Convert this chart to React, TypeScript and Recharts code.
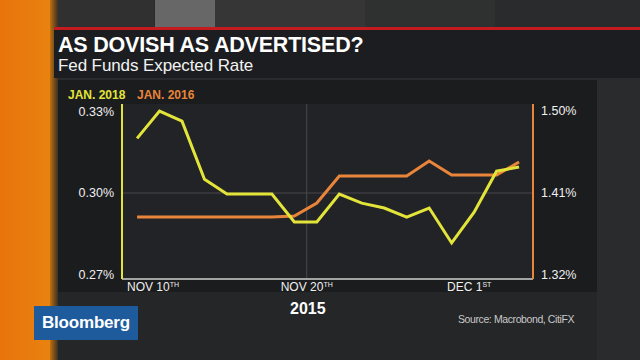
import React from 'react'
import { LineChart, Line, XAxis, YAxis, CartesianGrid, ReferenceLine } from 'recharts'

// business days, Nov 9 - Dec 2 2015
const days = [
  'Nov 9', 'Nov 10', 'Nov 11', 'Nov 12', 'Nov 13', 'Nov 16', 'Nov 17', 'Nov 18', 'Nov 19',
  'Nov 20', 'Nov 23', 'Nov 24', 'Nov 25', 'Nov 26', 'Nov 27', 'Nov 30', 'Dec 1', 'Dec 2',
]
const jan2018 = [
  0.320, 0.330, 0.3263, 0.305, 0.2996, 0.2996, 0.2996, 0.2894, 0.2894,
  0.2996, 0.2963, 0.2945, 0.2912, 0.2945, 0.2817, 0.293, 0.308, 0.3095,
]
const jan2016 = [
  1.3837, 1.3837, 1.3837, 1.3837, 1.3837, 1.3837, 1.3837, 1.3848, 1.399,
  1.4287, 1.4287, 1.4287, 1.4287, 1.4451, 1.4298, 1.4298, 1.4298, 1.444,
]
const leftTicks = [0.27, 0.3, 0.33]
const rightTicks = [1.32, 1.41, 1.5]
const xTickAt = [0.71, 7.55, 14.78]
const xTickMain = ['NOV 10', 'NOV 20', 'DEC 1']
const xTickSup = ['TH', 'TH', 'ST']

const data = days.map((d, i) => ({ i, day: d, jan18: jan2018[i], jan16: jan2016[i] }))

const YELLOW = '#e3e43a'
const ORANGE = '#e8853a'
const FONT = '"Liberation Sans", Arial, sans-serif'

const XTick = (props: any) => {
  const { x, y, payload } = props
  const k = xTickAt.indexOf(payload.value)
  return (
    <text x={x} y={y + 4} textAnchor="middle" fill="#f0f0f0" fontSize={12} fontFamily={FONT}>
      {xTickMain[k]}
      <tspan fontSize={7} dy={-4}>{xTickSup[k]}</tspan>
    </text>
  )
}

const abs = (s: React.CSSProperties): React.CSSProperties => ({ position: 'absolute', ...s })

export default function App() {
  return (
    <div style={abs({ left: 0, top: 0, width: 640, height: 360, overflow: 'hidden', background: '#2a2b2d', fontFamily: FONT })}>
      {/* studio background */}
      <div style={abs({ left: 54, top: 0, width: 100, height: 28, background: '#303031' })} />
      <div style={abs({ left: 155, top: 0, width: 60, height: 28, background: '#676767' })} />
      <div style={abs({ left: 215, top: 0, width: 150, height: 28, background: '#363637' })} />
      <div style={abs({ left: 365, top: 0, width: 130, height: 28, background: '#2f3030' })} />
      <div style={abs({ left: 0, top: 0, width: 50, height: 360, background: 'linear-gradient(90deg, #e8740c, #e9820f)' })} />
      <div style={abs({ left: 50, top: 0, width: 8, height: 360, background: 'linear-gradient(90deg, #c0700f, #3a3126)' })} />
      {/* title panel */}
      <div style={abs({ left: 54, top: 27, width: 586, height: 3, background: '#c41b20' })} />
      <div style={abs({ left: 54, top: 30, width: 586, height: 48, background: '#1c1d20' })} />
      <div style={abs({ left: 58, top: 33, color: '#fff', fontWeight: 700, fontSize: 21.5, letterSpacing: -0.2, lineHeight: '24px' })}>
        AS DOVISH AS ADVERTISED?
      </div>
      <div style={abs({ left: 58, top: 56, color: '#f2f2f2', fontSize: 17, lineHeight: '20px', letterSpacing: -0.1 })}>
        Fed Funds Expected Rate
      </div>
      {/* chart panel */}
      <div style={abs({ left: 58, top: 80, width: 539, height: 212, background: '#1b1c1e' })} />
      <div style={abs({ left: 58, top: 292, width: 539, height: 68, background: '#252628' })} />
      <div style={abs({ left: 68, top: 88, color: YELLOW, fontWeight: 700, fontSize: 12 })}>JAN. 2018</div>
      <div style={abs({ left: 137, top: 88, color: ORANGE, fontWeight: 700, fontSize: 12 })}>JAN. 2016</div>

      <div style={abs({ left: 0, top: 0 })}>
        <LineChart width={640} height={360} data={data} margin={{ top: 104, right: 47, bottom: 51, left: 62 }}>
          <CartesianGrid horizontal={false} vertical={false} fill="#222326" yAxisId="l" />
          <XAxis
            dataKey="i"
            type="number"
            domain={[-0.67, 17.62]}
            ticks={xTickAt}
            tick={<XTick />}
            tickLine={false}
            axisLine={{ stroke: '#a3a3a3', strokeWidth: 2 }}
            height={30}
            interval={0}
          />
          <YAxis
            yAxisId="l"
            domain={[0.2685, 0.3326]}
            ticks={leftTicks}
            tickFormatter={(v: number) => v.toFixed(2) + '%'}
            tick={{ fill: '#f0f0f0', fontSize: 12.5, fontFamily: FONT }}
            tickLine={false}
            axisLine={{ stroke: YELLOW, strokeWidth: 2 }}
            width={60}
            allowDataOverflow
          />
          <YAxis
            yAxisId="r"
            orientation="right"
            domain={[1.3156, 1.5077]}
            ticks={rightTicks}
            tickFormatter={(v: number) => v.toFixed(2) + '%'}
            tick={{ fill: '#f0f0f0', fontSize: 12.5, fontFamily: FONT, textAnchor: 'start' }}
            tickLine={false}
            axisLine={{ stroke: ORANGE, strokeWidth: 2 }}
            width={60}
            allowDataOverflow
          />
          <ReferenceLine yAxisId="l" y={0.3} stroke="#48494c" strokeWidth={1} />
          <ReferenceLine yAxisId="l" x={xTickAt[1]} stroke="#48494c" strokeWidth={1} />
          <Line yAxisId="r" dataKey="jan16" stroke={ORANGE} strokeWidth={3} dot={false} isAnimationActive={false} />
          <Line yAxisId="l" dataKey="jan18" stroke={YELLOW} strokeWidth={3} dot={false} isAnimationActive={false} />
        </LineChart>
      </div>

      <div style={abs({ left: 290, top: 300, color: '#fff', fontWeight: 700, fontSize: 16 })}>2015</div>
      <div style={abs({ left: 458, top: 313, color: '#c9c9c9', fontSize: 10.5, letterSpacing: -0.4, whiteSpace: 'nowrap' })}>
        Source: Macrobond, CitiFX
      </div>
      <div style={abs({ left: 34, top: 306, width: 104, height: 34, background: '#1e5b9c' })} />
      <div style={abs({ left: 42, top: 313, color: '#fff', fontWeight: 700, fontSize: 17, letterSpacing: -0.2, lineHeight: '20px' })}>
        Bloomberg
      </div>
    </div>
  )
}
